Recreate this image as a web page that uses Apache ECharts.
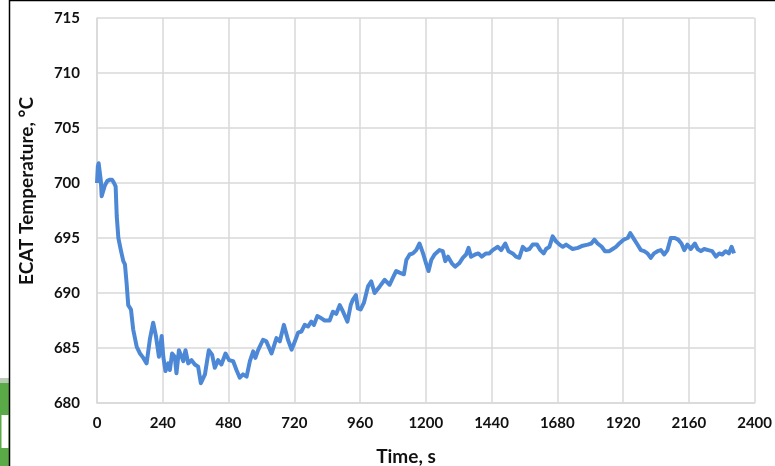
<!DOCTYPE html>
<html>
<head>
<meta charset="utf-8">
<script src="https://cdn.jsdelivr.net/npm/echarts@6/dist/echarts.min.js"></script>
<style>html,body{margin:0;padding:0;background:#fff;}#c{width:775px;height:466px;}</style>
</head>
<body>
<div id="c"></div>
<script>
const timeSeconds = [0,3,6,11,14,17,23,29,38,47,55,60,68,72,78,87,96,102,108,114,124,132,145,157,169,181,193,205,215,226,236,242,250,260,266,274,284,290,299,309,315,323,333,345,357,369,379,394,408,420,430,442,454,469,482,497,509,521,533,546,558,570,578,588,606,618,637,655,667,682,697,710,722,734,746,758,770,782,792,804,819,831,849,861,873,886,898,914,926,934,945,952,962,974,989,1001,1013,1032,1050,1068,1080,1092,1104,1120,1129,1141,1153,1165,1177,1190,1202,1210,1220,1232,1250,1262,1271,1281,1295,1307,1322,1335,1347,1356,1365,1380,1392,1404,1420,1432,1444,1463,1475,1490,1502,1517,1529,1541,1554,1566,1578,1590,1606,1618,1630,1639,1651,1663,1675,1688,1700,1712,1724,1736,1755,1773,1791,1804,1815,1827,1842,1854,1870,1882,1894,1906,1922,1937,1946,1961,1970,1985,1997,2009,2021,2033,2046,2058,2070,2082,2094,2109,2121,2133,2143,2155,2167,2182,2192,2204,2216,2231,2245,2259,2271,2282,2294,2306,2316,2325];
const ecatTemp = [700.0,701.5,701.8,701.7,700.2,698.8,698.8,699.8,700.2,700.3,700.3,700.1,699.7,697.0,695.0,693.9,692.9,692.6,690.9,688.9,688.5,686.7,685.1,684.5,684.1,683.6,685.8,687.3,686.1,684.2,686.1,684.2,682.9,683.6,683.0,684.5,684.2,682.7,684.8,684.2,683.8,684.8,683.6,683.9,683.5,683.3,681.8,682.6,684.8,684.4,683.2,683.9,683.5,684.5,683.9,683.8,683.0,682.3,682.6,682.4,683.8,684.7,684.1,684.8,685.75,685.6,684.5,685.9,685.6,687.1,685.75,684.85,685.6,686.4,686.5,687.1,686.95,687.4,687.1,687.9,687.7,687.5,687.5,688.3,688.1,688.9,688.3,687.4,688.9,689.4,689.8,688.6,688.5,689.1,690.6,691.05,690.0,690.6,691.2,690.75,691.4,692.0,691.85,691.7,693.0,693.5,693.6,693.9,694.5,693.6,692.6,692.0,693.0,693.5,693.9,693.8,692.9,693.3,692.7,692.4,692.7,693.2,693.5,694.1,693.3,693.5,693.6,693.3,693.6,693.6,693.9,694.2,693.9,694.5,693.8,693.6,693.3,693.2,694.2,693.9,694.0,694.4,694.4,693.9,693.6,694.0,694.2,695.15,694.7,694.4,694.2,694.4,694.2,694.0,694.1,694.3,694.4,694.5,694.85,694.5,694.2,693.8,693.8,694.0,694.2,694.5,694.85,695.0,695.45,694.85,694.5,693.9,693.8,693.6,693.2,693.6,693.8,693.9,693.5,693.9,695.0,695.0,694.85,694.5,693.9,694.4,694.0,694.5,694.0,693.8,694.0,693.9,693.8,693.3,693.6,693.5,693.8,693.6,694.2,693.6];
const xTicks = [0,240,480,720,960,1200,1440,1680,1920,2160,2400];
const yTicks = [680,685,690,695,700,705,710,715];
const xTitle = 'Time, s';
const yTitle = 'ECAT Temperature, °C';

const chart = echarts.init(document.getElementById('c'), null, {renderer:'canvas'});
const grey = '#d9d9d9';
const lbl = {fontFamily:'Lato', fontWeight:'bold', fontSize:15, color:'#111'};
chart.setOption({
  animation:false,
  backgroundColor:'#fff',
  grid:{left:97, top:18, width:658, height:385, containLabel:false},
  xAxis:{type:'value', min:xTicks[0], max:xTicks[xTicks.length-1], interval:240,
    axisLine:{show:true, lineStyle:{color:grey, width:1.5}}, axisTick:{show:false},
    splitLine:{show:true, lineStyle:{color:grey, width:1.5}},
    axisLabel:Object.assign({margin:13, formatter:v=>String(v)}, lbl)},
  yAxis:{type:'value', min:yTicks[0], max:yTicks[yTicks.length-1], interval:5,
    axisLine:{show:true, lineStyle:{color:grey, width:1.5}}, axisTick:{show:false},
    splitLine:{show:true, lineStyle:{color:grey, width:1.5}},
    axisLabel:Object.assign({margin:17, formatter:v=>String(v)}, lbl)},
  series:[{type:'line', data:timeSeconds.map((t,i)=>[t, ecatTemp[i]]), showSymbol:false,
    lineStyle:{color:'#4d88d6', width:4, join:'round'}}],
  graphic:[
    {type:'text', x:406, y:457, style:{text:xTitle, font:'bold 19px Lato', fill:'#111', textAlign:'center', textVerticalAlign:'middle'}},
    {type:'text', x:27, y:191, rotation:Math.PI/2, style:{text:yTitle, font:'bold 19px Lato', fill:'#111', textAlign:'center', textVerticalAlign:'middle'}},
    {type:'rect', shape:{x:0, y:378, width:9, height:5}, style:{fill:'#b8cbb4'}},
    {type:'rect', shape:{x:0, y:383, width:9, height:83}, style:{fill:'#5aab47'}},
    {type:'rect', shape:{x:1.5, y:415, width:7, height:33}, style:{fill:'#ffffff'}},
    {type:'line', shape:{x1:9.5, y1:0, x2:9.5, y2:466}, style:{stroke:'#000', lineWidth:1.5}},
    {type:'line', shape:{x1:9, y1:0.5, x2:775, y2:0.5}, style:{stroke:'#000', lineWidth:1.5}}
  ]
});
</script>
</body>
</html>
